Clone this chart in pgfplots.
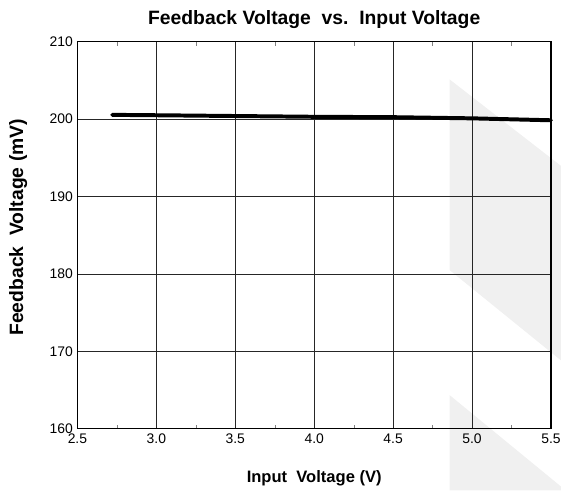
\documentclass[border=0pt]{standalone}
\usepackage{fontspec}
\setmainfont{Liberation Sans}
\usepackage{pgfplots}
\pgfplotsset{compat=1.18}
\begin{document}
\begin{tikzpicture}
\begin{axis}[
  scale only axis,
  width=357.75pt, height=292.5pt,
  xmin=2.5, xmax=5.5, ymin=160, ymax=210,
  xtick={2.5,3.0,...,5.5},
  ytick={160,170,...,210},
  minor x tick num=1,
  xticklabel style={/pgf/number format/.cd, fixed, fixed zerofill, precision=1},
  /pgf/number format/assume math mode=true,
  ticklabel style={font=\fontsize{10.5}{12}\selectfont},
  major tick length=0pt,
  minor tick length=3pt,
  tick align=inside,
  grid=major,
  major grid style={black!85, line width=0.7pt},
  axis line style={black, line width=0.9pt},
  xlabel={\bfseries Input\ \ Voltage (V)},
  ylabel={\bfseries Feedback\ \ Voltage (mV)},
  xlabel style={font=\fontsize{12.5}{15}\selectfont, yshift=-13.5pt},
  ylabel style={font=\fontsize{14.6}{16}\selectfont, yshift=10pt, xshift=6pt},
  title={\bfseries Feedback Voltage\ \ vs.\ \ Input Voltage},
  title style={font=\fontsize{14.6}{16}\selectfont, yshift=0pt},
  clip=false,
  set layers,
]
\begin{pgfonlayer}{axis background}
\fill[gray!12] (axis cs:4.858,205.13) -- (axis cs:5.563,193.97) -- (axis cs:5.563,168.85) -- (axis cs:4.858,180.5) -- cycle;
\fill[gray!12] (axis cs:4.858,164.36) -- (axis cs:5.563,152.56) -- (axis cs:5.563,152.05) -- (axis cs:4.858,152.05) -- cycle;
\end{pgfonlayer}
\path (axis cs:2.5,210) ++(-58.5pt,31.5pt) coordinate (tl);
\path (axis cs:5.5,160) ++(7.5pt,-46.5pt) coordinate (br);
\path (tl) rectangle (br);
\addplot[black, line width=3pt, line cap=round] coordinates {
(2.72,200.55) (3.0,200.5) (3.5,200.4) (4.0,200.3) (4.5,200.25) (5.0,200.1) (5.5,199.85)
};
\end{axis}
\end{tikzpicture}
\end{document}
